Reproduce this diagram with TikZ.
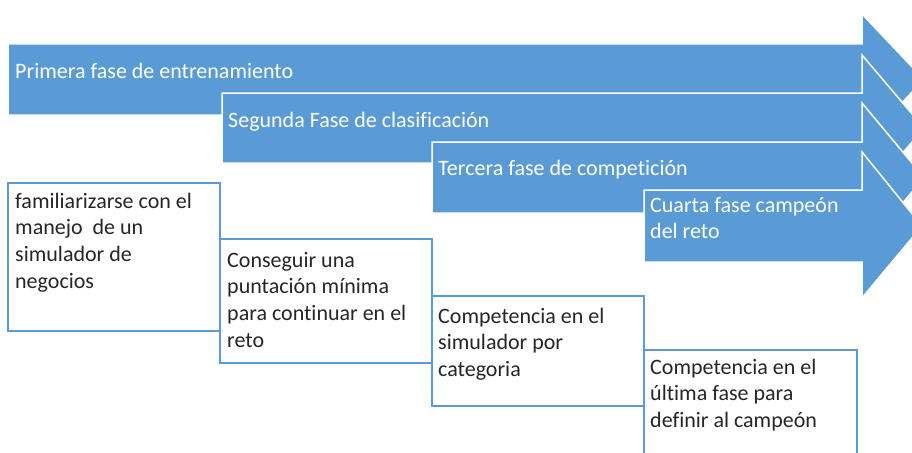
\documentclass[tikz,border=0pt]{standalone}
\usepackage{fontspec}
\setmainfont{Carlito}[Ligatures=CommonOff]
\definecolor{arrowblue}{HTML}{5B9BD5}
\definecolor{txtdark}{HTML}{262626}
\begin{document}
\begin{tikzpicture}[x=1pt,y=-1pt,
  phase/.style={fill=arrowblue, draw=white, line width=1.5pt, line join=miter},
  phasetext/.style={anchor=north west, inner sep=0pt, align=left, text=white, font=\fontsize{22}{26.5}\selectfont},
  goalbox/.style={draw=arrowblue, line width=1.3pt, fill=white, anchor=north west, inner sep=0pt, outer sep=0pt},
  goaltext/.style={anchor=north west, inner sep=0pt, align=left, text=txtdark, font=\fontsize{22}{26.7}\selectfont}]
\useasboundingbox (0,0) rectangle (912,452);
\clip (0,0) rectangle (912,452);
\fill[white] (0,0) rectangle (912,452);
% phase arrows
\draw[phase] (8,44) -- (862,44) -- (862,14) -- (924,79.5) -- (862,145) -- (862,115) -- (8,115) -- cycle;
\draw[phase] (222,93) -- (862,93) -- (862,55) -- (924,128) -- (862,201) -- (862,163) -- (222,163) -- cycle;
\draw[phase] (432,142) -- (862,142) -- (862,103) -- (924,177.5) -- (862,252) -- (862,213) -- (432,213) -- cycle;
\draw[phase] (644,190) -- (862,190) -- (862,152) -- (922,226) -- (862,298) -- (862,262) -- (644,262) -- cycle;
\node[phasetext] (t1) at (15,60) {\rule{0pt}{18pt}Primera fase de entrenamiento};
\node[phasetext] (t2) at (228,109) {\rule{0pt}{18pt}Segunda Fase de clasificación};
\node[phasetext] (t3) at (438,157) {\rule{0pt}{18pt}Tercera fase de competición};
\node[phasetext] (t4) at (650,194) {\rule{0pt}{18pt}Cuarta fase campeón\\del reto};
% goal boxes
\node[goalbox, minimum width=212pt, minimum height=148pt] (g1) at (8,183) {};
\node[goalbox, minimum width=212pt, minimum height=124pt] (g2) at (220,239) {};
\node[goalbox, minimum width=212pt, minimum height=110pt] (g3) at (432,296) {};
\node[goalbox, minimum width=213pt, minimum height=130pt] (g4) at (644,350) {};
\node[goaltext] (d1) at (15,190) {\rule{0pt}{18pt}familiarizarse con el\\manejo\ \ de un\\simulador de\\negocios};
\node[goaltext] (d2) at (227,249) {\rule{0pt}{18pt}Conseguir una\\puntación mínima\\para continuar en el\\reto};
\node[goaltext] (d3) at (438,305) {\rule{0pt}{18pt}Competencia en el\\simulador por\\categoria};
\node[goaltext] (d4) at (650,356) {\rule{0pt}{18pt}Competencia en el\\última fase para\\definir al campeón};
\end{tikzpicture}
\end{document}
